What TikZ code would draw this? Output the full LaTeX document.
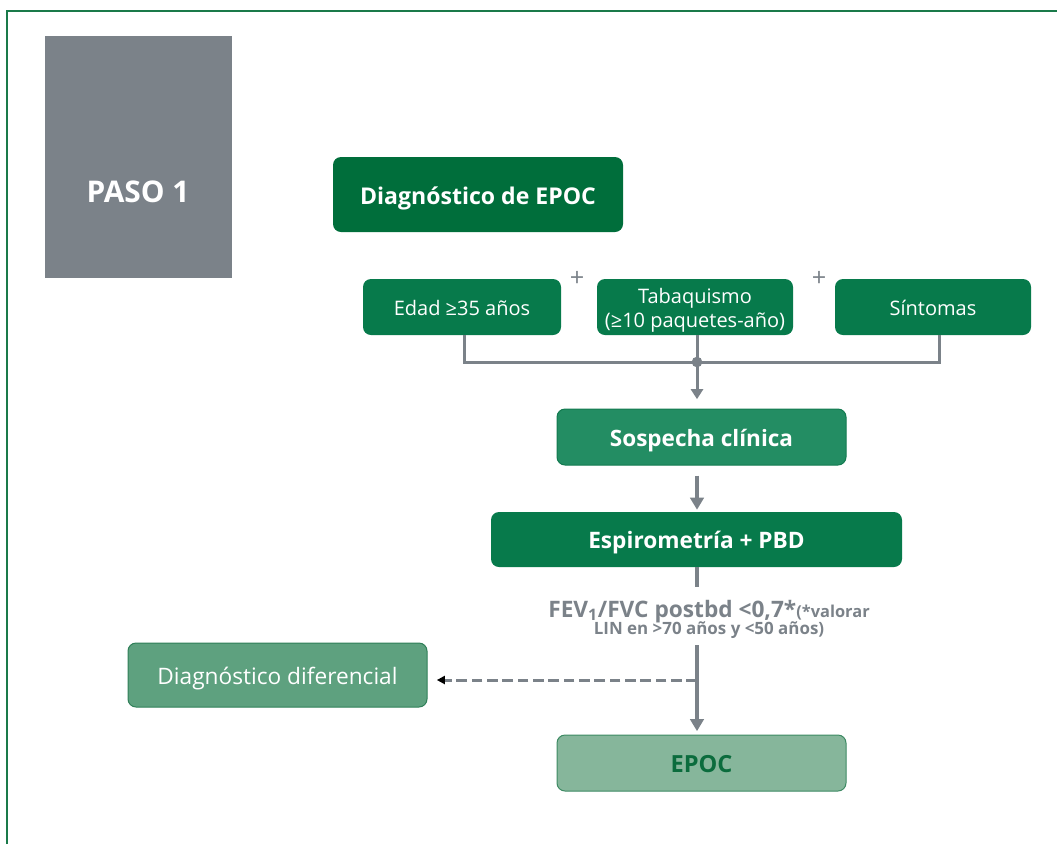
\documentclass[tikz,border=0pt]{standalone}
\usepackage{fontspec}
\setmainfont{Open Sans}
\usetikzlibrary{arrows.meta}

\definecolor{framegreen}{HTML}{1A7A4A}
\definecolor{stepgray}{HTML}{7B8289}
\definecolor{darkgreen}{HTML}{006E3B}
\definecolor{midgreen}{HTML}{077A4B}
\definecolor{suspgreen}{HTML}{238D63}
\definecolor{suspedge}{HTML}{137A50}
\definecolor{diffgreen}{HTML}{5EA17F}
\definecolor{diffedge}{HTML}{2F7F58}
\definecolor{paleGreen}{HTML}{86B69B}
\definecolor{paleedge}{HTML}{3D8A63}
\definecolor{epoctext}{HTML}{0B6C3D}

\tikzset{
  flowbox/.style={rounded corners=6pt, inner sep=0pt, align=center, text=white},
  % fixed text box so that capitals sit in the middle of the box
  capbox/.style={text height=#1, text depth=0pt},
  conn/.style={draw=stepgray, line width=2.25pt},
  thickconn/.style={draw=stepgray, line width=3pt},
  downarrow/.style={thickconn, -{Triangle[length=9pt,width=10pt]}},
  thinarrow/.style={conn, -{Triangle[length=7.5pt,width=9pt]}},
  dasharrow/.style={conn, dash pattern=on 8pt off 3.5pt,
    -{Triangle[length=6pt,width=6pt,color=black]}},
}

\begin{document}
\begin{tikzpicture}[x=0.75pt,y=-0.75pt]
\useasboundingbox (0,0) rectangle (1057,844);

% outer frame (top and left edges)
\draw[framegreen, line width=1.5pt] (7,844) -- (7,11) -- (1057,11);

% step marker
\node[fill=stepgray, minimum width=140.25pt, minimum height=181.5pt, inner sep=0pt] (paso) at (138.5,157) {};
\node[text=white, capbox=16pt, inner sep=0pt, font=\bfseries\fontsize{22.4}{26}\selectfont] (pasotxt) at (138,192) {PASO 1};

% title
\node[flowbox, capbox=14.4pt, fill=darkgreen, minimum width=217.5pt, minimum height=56.25pt,
      font=\bfseries\fontsize{17.3}{20}\selectfont] (diag) at (478,194.5) {Diagnóstico de EPOC};

% criteria
\node[flowbox, capbox=12.7pt, fill=midgreen, minimum width=148.5pt, minimum height=42pt,
      font=\fontsize{15}{17.5}\selectfont] (edad) at (462,307) {Edad ≥35 años};
\node[flowbox, capbox=30pt, fill=midgreen, minimum width=147pt, minimum height=42pt,
      font=\fontsize{15}{17.3}\selectfont] (taba) at (695,307) {Tabaquismo\\(≥10 paquetes-año)};
\node[flowbox, capbox=12.7pt, fill=midgreen, minimum width=147pt, minimum height=42pt,
      font=\fontsize{15}{17.5}\selectfont] (sint) at (933,307) {Síntomas};

\node[text=stepgray, font=\fontsize{19}{22}\selectfont] (plusa) at (577,279) {+};
\node[text=stepgray, font=\fontsize{19}{22}\selectfont] (plusb) at (819,279) {+};

% suspicion, spirometry, outcomes
\node[flowbox, capbox=14.1pt, fill=suspgreen, draw=suspedge, line width=0.75pt, minimum width=216.75pt, minimum height=42pt,
      font=\bfseries\fontsize{16.9}{20}\selectfont] (sosp) at (701.5,437) {Sospecha clínica};
\node[flowbox, capbox=14.1pt, fill=midgreen, minimum width=308.25pt, minimum height=41.25pt,
      font=\bfseries\fontsize{17}{20}\selectfont] (espi) at (696.5,539.5) {Espirometría + PBD};
\node[flowbox, capbox=14.1pt, fill=diffgreen, draw=diffedge, line width=0.75pt, minimum width=224.25pt, minimum height=48pt,
      font=\fontsize{17}{20}\selectfont] (ddif) at (277.5,675) {Diagnóstico diferencial};
\node[flowbox, capbox=14.6pt, fill=paleGreen, draw=paleedge, line width=0.75pt, minimum width=216.75pt, minimum height=42pt,
      text=epoctext, font=\bfseries\fontsize{17.7}{20}\selectfont] (epoc) at (701.5,763) {EPOC};

% spirometric criterion
\node[text=stepgray, align=center, inner sep=0pt, font=\bfseries] (fev) at (709,619)
  {{\fontsize{17}{20}\selectfont FEV\textsubscript{1}/FVC postbd <0,7*}{\fontsize{12.3}{14}\selectfont(*valorar}\\[-2pt]
   {\fontsize{12.7}{14}\selectfont LIN en >70 años y <50 años)}};

% connectors
\coordinate (j) at (697,362);
\draw[conn] (edad.south -| 464,0) |- (j) -| (sint.south -| 939,0);
\draw[conn] (taba.south -| j) -- (j);
\fill[stepgray] (j) circle (4pt);
\draw[thinarrow, shorten >=7pt] (j) -- (j |- sosp.north);
\draw[downarrow, shorten <=7.5pt, shorten >=1.5pt] (sosp.south -| j) -- (espi.north -| j);
\draw[thickconn] (espi.south -| j) -- (697,587);
\draw[downarrow, shorten >=2.5pt] (697,645) -- (epoc.north -| j);
\coordinate (d) at (697,680);
\draw[dasharrow, shorten >=7pt] (d) -- (ddif.east |- d);

\end{tikzpicture}
\end{document}
